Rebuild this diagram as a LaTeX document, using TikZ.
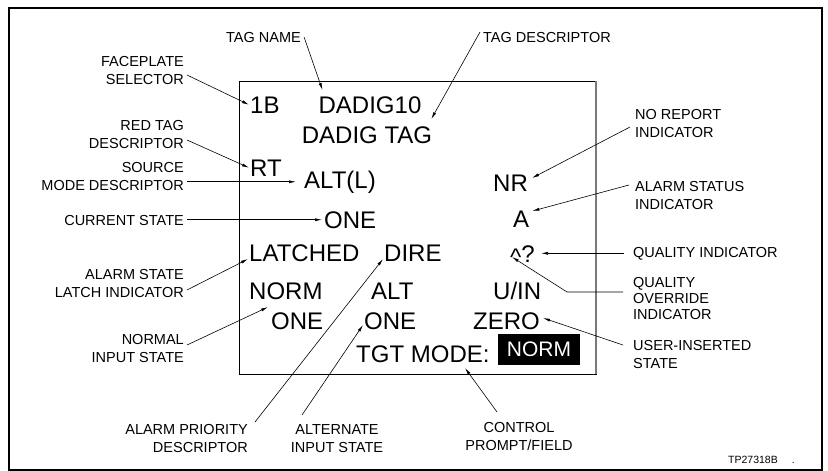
\documentclass[tikz,border=0pt]{standalone}
\usepackage{fontspec}
\setmainfont{Liberation Sans}
\usetikzlibrary{arrows.meta}
\definecolor{mgray}{HTML}{7A7A7A}
\tikzset{
  disp/.style={font=\fontsize{24}{28}\selectfont, inner sep=1pt},
  lbl/.style={font=\fontsize{14.5}{18}\selectfont, inner sep=3pt},
  fieldbox/.style={fill=black, text=white, font=\fontsize{21}{24}\selectfont,
                   minimum width=82pt, minimum height=31pt, inner sep=0pt},
  arr/.style={-{Latex[length=7pt,width=3pt]}, line width=0.6pt},
}

\begin{document}
\begin{tikzpicture}[x=1pt, y=-1pt]
  \useasboundingbox (0,0) rectangle (828,471);

  %% Outer frame and faceplate
  \draw[line width=1.2pt] (9,8) rectangle (822,470);
  \draw[line width=0.8pt] (239,81) rectangle (596,374);
  \draw[mgray, line width=1.4pt] (596,81) -- (596,374);

  %% Faceplate text
  \node[disp, anchor=base west] (oneb)     at (249,113) {1B};
  \node[disp, anchor=base]      (dadig)    at (370,113) {DADIG10};
  \node[disp, anchor=base]      (dadigtag) at (367,143) {DADIG TAG};
  \node[disp, anchor=base west] (rt)       at (249,176) {RT};
  \node[disp, anchor=base west] (altl)     at (303,188) {ALT(L)};
  \node[disp, anchor=base west] (nr)       at (492,191) {NR};
  \node[disp, anchor=base west] (cur)      at (323,228) {ONE};
  \node[disp, anchor=base west] (alm)      at (512,227) {A};
  \node[disp, anchor=base west] (latched)  at (248,261) {LATCHED};
  \node[disp, anchor=base west] (dire)     at (383,261) {DIRE};
  \node[disp, anchor=base west] (qual)     at (509,262) {\raisebox{-3pt}{\textasciicircum}?};
  \node[disp, anchor=base west] (norm)     at (248,299) {NORM};
  \node[disp, anchor=base west] (alt)      at (370,299) {ALT};
  \node[disp, anchor=base west] (uin)      at (492,299) {U/IN};
  \node[disp, anchor=base west] (onen)     at (270,329) {ONE};
  \node[disp, anchor=base west] (onea)     at (363,329) {ONE};
  \node[disp, anchor=base west] (zero)     at (472,329) {ZERO};
  \node[disp, anchor=base west] (tgt)      at (355,362) {TGT MODE:};
  \node[fieldbox] (field) at (539,349.5) {NORM};

  %% Callout labels, left (base = last line)
  \node[lbl, anchor=base west]  (lbltag)   at (223,42)  {TAG NAME};
  \node[lbl, anchor=base east, align=right] (lblface)  at (187,84)  {FACEPLATE\\SELECTOR};
  \node[lbl, anchor=base east, align=right] (lblred)   at (187,148) {RED TAG\\DESCRIPTOR};
  \node[lbl, anchor=base east, align=right] (lblsrc)   at (187,190) {SOURCE\\MODE DESCRIPTOR};
  \node[lbl, anchor=base east]  (lblcur)   at (187,225) {CURRENT STATE};
  \node[lbl, anchor=base east, align=right] (lbllatch) at (187,297) {ALARM STATE\\LATCH INDICATOR};
  \node[lbl, anchor=base east, align=right] (lblnorm)  at (187,362) {NORMAL\\INPUT STATE};

  %% Callout labels, bottom
  \node[lbl, anchor=base east, align=right]  (lblprio)  at (251,452) {ALARM PRIORITY\\DESCRIPTOR};
  \node[lbl, anchor=base, align=center]      (lblaltin) at (337,452) {ALTERNATE\\INPUT STATE};
  \node[lbl, anchor=base, align=center]      (lblctrl)  at (519,450) {CONTROL\\PROMPT/FIELD};

  %% Callout labels, right
  \node[lbl, anchor=base west] (lbldesc) at (480,42) {TAG DESCRIPTOR};
  \node[lbl, anchor=base west, align=left] (lblnr)   at (632,137) {NO REPORT\\INDICATOR};
  \node[lbl, anchor=base west, align=left] (lblstat) at (632,209) {ALARM STATUS\\INDICATOR};
  \node[lbl, anchor=base west] (lblqual) at (630,257) {QUALITY INDICATOR};
  \node[lbl, anchor=base west, align=left, font=\fontsize{14.5}{16}\selectfont]
       (lblovr) at (630,319) {QUALITY\\OVERRIDE\\INDICATOR};
  \node[lbl, anchor=base west, align=left] (lbluser) at (630,368) {USER-INSERTED\\STATE};

  \node[anchor=base west, inner sep=0pt, font=\fontsize{10.5}{12}\selectfont]
       (fig) at (728,463) {TP27318B\hspace{14pt}.};

  %% Callout arrows
  \draw[arr] (lbltag.east) -- ([xshift=5pt,yshift=5pt]dadig.north west);
  \draw[arr] ([yshift=5pt]lbldesc.west) -- ([xshift=-2pt,yshift=6pt]dadigtag.north east);
  \draw[arr] ([yshift=9pt]lblface.base east) -- (oneb.west);
  \draw[arr] ([yshift=8pt]lblred.base east) -- (rt.west);
  \draw[arr, shorten >=7pt] (lblsrc.east |- altl.west) -- (altl.west);
  \draw[arr, shorten >=1pt] (lblcur.east |- cur.west) -- (cur.west);
  \draw[arr] ([yshift=7pt]lbllatch.base east) -- ([yshift=2pt]latched.base west);
  \draw[arr] ([yshift=17pt]lblnorm.base east) -- ([xshift=-2pt,yshift=4pt]onen.north west);
  \draw[arr] ([shift={(4pt,30pt)}]lblprio.base east) -- ([yshift=2pt]dire.base west);
  \draw[arr] ([shift={(-35pt,37pt)}]lblaltin.base) -- ([yshift=4pt]onea.base west);
  \draw[arr] ([shift={(-22pt,38pt)}]lblctrl.base) -- ([shift={(110pt,-6pt)}]tgt.base west);
  \draw[arr] ([shift={(-2pt,10pt)}]lblnr.base west) -- ([shift={(3pt,13pt)}]nr.base east);
  \draw[arr] ([shift={(-3pt,24pt)}]lblstat.base west) -- ([shift={(2pt,16pt)}]alm.base east);
  \draw[arr] ([xshift=-6pt]lblqual.west) -- ([xshift=5pt]qual.east |- lblqual.west);
  \draw[arr] ([shift={(-7pt,27pt)}]lblovr.base west) -- ++(-56,0)
             -- ([shift={(3pt,5pt)}]qual.base west);
  \draw[arr] ([shift={(-7pt,23pt)}]lbluser.base west) -- ([shift={(2pt,11pt)}]zero.base east);

\end{tikzpicture}
\end{document}
